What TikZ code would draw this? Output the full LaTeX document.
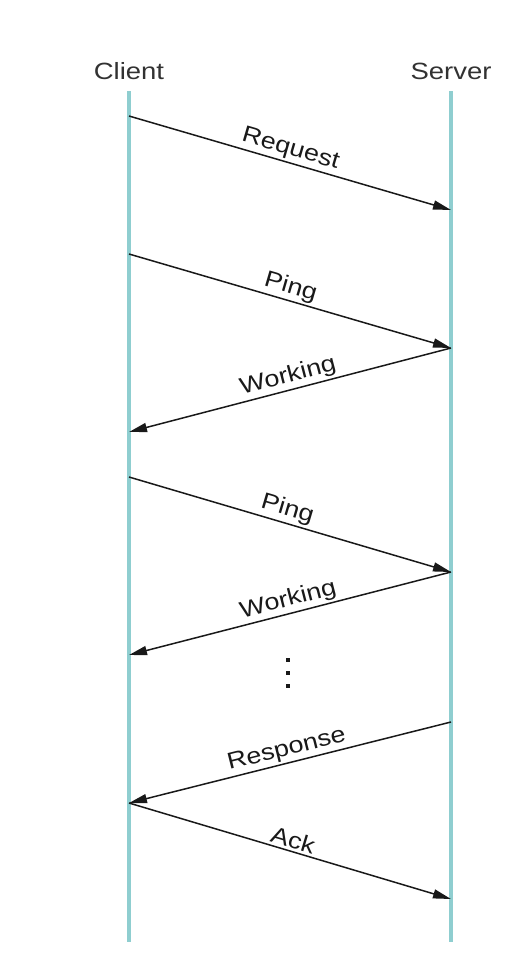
\documentclass[tikz,border=0pt]{standalone}
\usepackage{fontspec}
\setmainfont{Liberation Sans}
\newfontfamily\wide[FakeStretch=1.17]{Liberation Sans}
\usetikzlibrary{arrows.meta}
\definecolor{life}{RGB}{143,206,208}
\definecolor{hdr}{RGB}{50,50,50}
\begin{document}
\begin{tikzpicture}[x=1pt,y=-1pt,
  lifeline/.style={draw=life,line width=3.2pt},
  hdrtext/.style={font=\wide\fontsize{23.5}{26}\selectfont,text=hdr,inner sep=0pt},
  msg/.style={draw=black!90,line width=1.5pt,-{Triangle[length=18pt,width=9pt]}},
  msglabel/.style={font=\wide\fontsize{23}{26}\selectfont,text=black!90,sloped,above,inner sep=2pt,midway}]
\useasboundingbox (0,0) rectangle (524,956);
% lifelines
\coordinate (ctop) at (129,91);
\coordinate (cbot) at (129,942);
\coordinate (stop) at (451,91);
\coordinate (sbot) at (451,942);
\draw[lifeline] (ctop) -- (cbot);
\draw[lifeline] (stop) -- (sbot);
\node[hdrtext] (client) at (129,71) {Client};
\node[hdrtext] (server) at (451,71) {Server};
% message points
\coordinate (c1) at (129,116);
\coordinate (s1) at (451,210);
\coordinate (c2) at (129,254);
\coordinate (s2) at (451,348);
\coordinate (c3) at (129,432);
\coordinate (c4) at (129,477);
\coordinate (s4) at (451,572);
\coordinate (c5) at (129,655);
\coordinate (s6) at (451,722);
\coordinate (c6) at (129,803);
\coordinate (s7) at (451,899);
\draw[msg] (c1) -- node[msglabel,pos=0.49] (lreq) {Request} (s1);
\draw[msg] (c2) -- node[msglabel,pos=0.49] (lping1) {Ping} (s2);
\draw[msg] (s2) -- node[msglabel,pos=0.495] (lwork1) {Working} (c3);
\draw[msg] (c4) -- node[msglabel,pos=0.48] (lping2) {Ping} (s4);
\draw[msg] (s4) -- node[msglabel,pos=0.495] (lwork2) {Working} (c5);
\draw[msg] (s6) -- node[msglabel,pos=0.5] (lresp) {Response} (c6);
\draw[msg] (c6) -- node[msglabel,pos=0.5] (lack) {Ack} (s7);
% vertical ellipsis
\foreach \y/\n in {660/d1,673/d2,686/d3}
  \node[fill=black!90,minimum size=3.8pt,inner sep=0pt] (\n) at (288,\y) {};
\end{tikzpicture}
\end{document}
